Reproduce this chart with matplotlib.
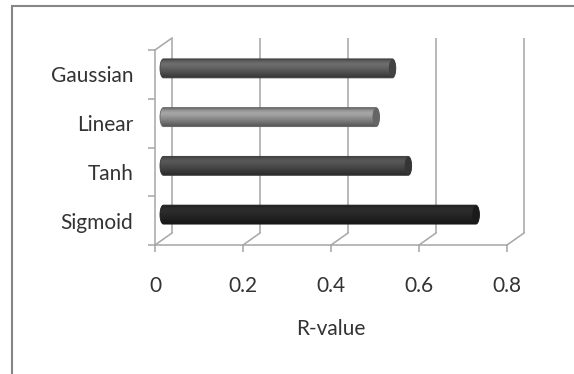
import numpy as np
import matplotlib
matplotlib.use("Agg")
import matplotlib.pyplot as plt
from matplotlib import transforms
from matplotlib.patches import Polygon, Ellipse, Rectangle
from matplotlib.colors import to_rgb

# Data
categories = ["Sigmoid", "Tanh", "Linear", "Gaussian"]
r_values = [0.71, 0.556, 0.483, 0.52]
bar_colors = ["#262626", "#4a4a4a", "#8c8c8c", "#5c5c5c"]
x_ticks = [0, 0.2, 0.4, 0.6, 0.8]
x_tick_labels = ["0", "0.2", "0.4", "0.6", "0.8"]

W, H, DPI = 574, 374, 100
FONT = "Lato"
GRID = "#a6a6a6"
TEXT = "#333333"
FS = 15
LW = 1.1

fig = plt.figure(figsize=(W / DPI, H / DPI), dpi=DPI)
fig.patch.set_facecolor("white")

# chart-area border (open to the right and bottom)
fig.add_artist(Rectangle((12 / W, -0.05), 1.2, 1 - 6 / H + 0.05,
                         transform=fig.transFigure, fill=False,
                         edgecolor="#868686", lw=1.5))

# front plane of the 3-D plot
ax = fig.add_axes([155 / W, 1 - 245 / H, 352 / W, 195 / H])
ax.set_xlim(0, 0.8)
ax.set_ylim(-0.5, len(categories) - 0.5)
ax.patch.set_alpha(0)
for s in ax.spines.values():
    s.set_visible(False)

# depth offsets (pixels): back wall and mid-depth where bars sit
DX, DY = 17, 12
back = ax.transData + transforms.ScaledTranslation(DX / DPI, DY / DPI, fig.dpi_scale_trans)
mid = ax.transData + transforms.ScaledTranslation(DX / 2 / DPI, DY / 2 / DPI, fig.dpi_scale_trans)

y0, y1 = -0.5, len(categories) - 0.5

# back-wall vertical gridlines
for xv in x_ticks:
    ax.plot([xv, xv], [y0, y1], color=GRID, lw=LW, transform=back, clip_on=False,
            solid_capstyle="butt")
# front axes
ax.plot([0, 0.8], [y0, y0], color=GRID, lw=LW, clip_on=False)
ax.plot([0, 0], [y0, y1], color=GRID, lw=LW, clip_on=False)

# floor / wall diagonals joining front and back planes
fig.canvas.draw()
def diag(x, y):
    p0 = ax.transData.transform((x, y))
    p1 = back.transform((x, y))
    ax.plot([p0[0], p1[0]], [p0[1], p1[1]], color=GRID, lw=LW,
            transform=transforms.IdentityTransform(), clip_on=False)
for xv in x_ticks:
    diag(xv, y0)
diag(0, y1)

# ticks and labels
ax.set_yticks(range(len(categories)))
ax.set_yticklabels(categories)
ax.set_yticks(np.arange(y0, y1 + 0.01, 1.0), minor=True)
ax.tick_params(axis="y", which="major", length=0, pad=15.5, labelsize=FS,
               labelcolor=TEXT)
ax.tick_params(axis="y", which="minor", length=5, width=LW, color=GRID, direction="out")
ax.set_xticks(x_ticks)
ax.set_xticklabels(x_tick_labels)
ax.tick_params(axis="x", which="major", length=5, width=LW, color=GRID, pad=17.5,
               labelsize=FS, labelcolor=TEXT)
for lab in ax.get_xticklabels() + ax.get_yticklabels():
    lab.set_fontfamily(FONT)
ax.set_xlabel("R-value", fontsize=FS, fontfamily=FONT, color=TEXT, labelpad=16.5)

# cylinder bars
HH = 0.195          # half bar height (category units)
EW = 3.5 / 440.0    # half width of the end ellipse (value units)
profile = np.array([0.78, 1.05, 1.18, 1.15, 1.05, 0.95, 0.85, 0.74, 0.62])
t = np.linspace(np.pi / 2, -np.pi / 2, 25)
for i, (v, c) in enumerate(zip(r_values, bar_colors)):
    base = np.array(to_rgb(c))
    rows = np.clip(base[None, :] * profile[:, None], 0, 1)
    grad = rows[:, None, :]
    right = np.column_stack([v + EW * np.cos(t), i + HH * np.sin(t)])
    left = np.column_stack([0 - EW * np.cos(t[::-1]), i + HH * np.sin(t[::-1])])
    outline = Polygon(np.vstack([right, left]), closed=True, transform=mid,
                      facecolor="none", edgecolor=np.clip(base * 0.7, 0, 1), lw=0.6,
                      zorder=4)
    ax.add_patch(outline)
    im = ax.imshow(grad, extent=(-EW, v + EW, i - HH, i + HH), transform=mid,
                   aspect="auto", interpolation="bilinear", origin="upper", zorder=3)
    im.set_clip_path(outline)
    cap = Ellipse((v, i), 2 * EW, 2 * HH * 0.97, transform=mid,
                  facecolor=np.clip(base * 0.72, 0, 1), edgecolor="none", zorder=5)
    ax.add_patch(cap)

ax.set_xlim(0, 0.8)
ax.set_ylim(y0, y1)

fig.savefig("out.png", dpi=DPI)
